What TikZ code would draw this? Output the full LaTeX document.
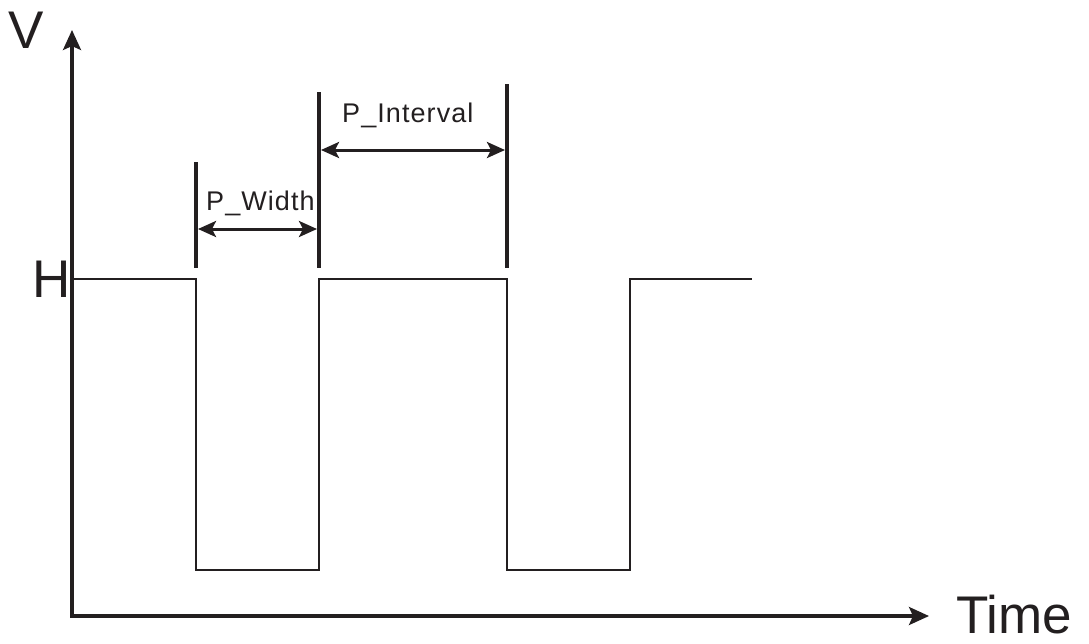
\documentclass[tikz,border=0pt]{standalone}
\usepackage{fontspec}
\setmainfont{Liberation Sans}
\usetikzlibrary{arrows.meta}
\definecolor{ink}{HTML}{231F20}

\begin{document}
\begin{tikzpicture}[x=1pt, y=-1pt,
      every node/.style={font=\fontsize{27}{27}\selectfont\addfontfeature{LetterSpace=4}, text=ink, inner sep=0pt, anchor=base west},
      big/.style={font=\fontsize{53}{53}\selectfont},
      axis/.style={draw=ink, line width=3.2pt, line cap=rect, -{Stealth[length=20pt, width=18pt, inset=4pt]}},
      signal/.style={draw=ink, line width=2.9pt},
      marker/.style={draw=ink, line width=3.6pt},
      span/.style={draw=ink, line width=3pt, {Stealth[length=18pt, width=16pt, inset=4pt]}-{Stealth[length=18pt, width=16pt, inset=4pt]}}]
    \useasboundingbox (0,0) rectangle (1089,643);
    % axes
    \coordinate (o) at (72,616);
    \coordinate (vtop) at (72,30);
    \coordinate (tend) at (929,616);
    \draw[axis] (o) -- (vtop);
    \draw[axis] (o) -- (tend);
    \node[big] (v) at (8,48) {V};
    \node[big] (h) at (32,297) {H};
    \node[big] (t) at (956,633) {Time};
    % pulse train
    \draw[signal] (72,279) -- (196,279) -- (196,570) -- (319,570) -- (319,279)
      -- (507,279) -- (507,570) -- (630,570) -- (630,279) -- (752,279);
    % marker lines
    \draw[marker] (196,162) -- (196,268);
    \draw[marker] (319,92) -- (319,268);
    \draw[marker] (507,84) -- (507,268);
    \coordinate (w1) at (198,229);
    \coordinate (w2) at (317,229);
    \coordinate (i1) at (321,150);
    \coordinate (i2) at (505,150);
    \draw[span] (w1) -- (w2);
    \draw[span] (i1) -- (i2);
    \node (pw) at (206,210) {P\_Width};
    \node (pi) at (342,122) {P\_Interval};
  \end{tikzpicture}
\end{document}
